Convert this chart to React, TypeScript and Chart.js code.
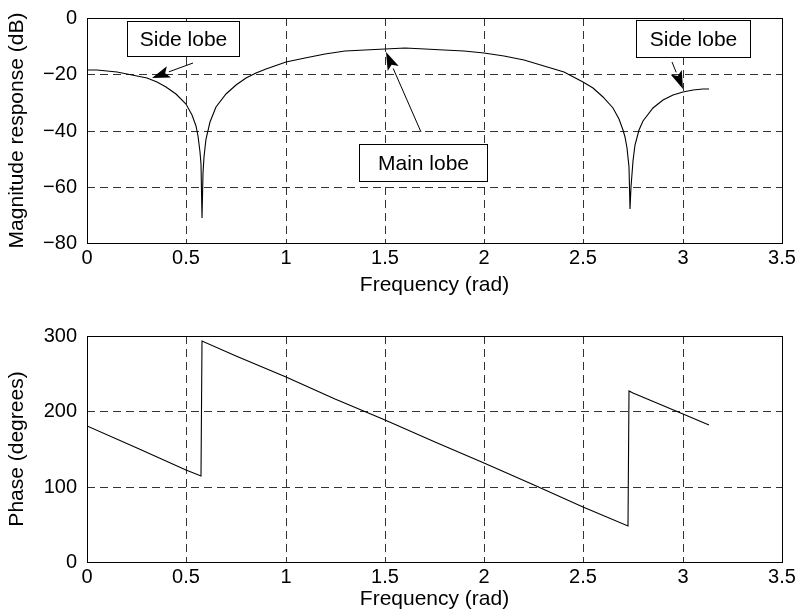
import React, { useEffect, useRef } from "react";
import { Chart, registerables } from "chart.js";

Chart.register(...registerables);

const FONT = "'Liberation Sans', Arial, Helvetica, sans-serif";

// ---- Data ----
const magFreq = [
  0, 0.05, 0.1, 0.15, 0.2, 0.25, 0.3, 0.35, 0.4, 0.45, 0.5, 0.53, 0.55, 0.56, 0.57, 0.575,
  0.58, 0.585, 0.59, 0.6, 0.62, 0.65, 0.7, 0.75, 0.8, 0.85, 0.9, 1.0, 1.1, 1.2, 1.3, 1.4,
  1.5, 1.6, 1.7, 1.8, 1.9, 2.0, 2.1, 2.2, 2.3, 2.4, 2.5, 2.55, 2.6, 2.65, 2.68, 2.7, 2.71,
  2.72, 2.73, 2.735, 2.74, 2.75, 2.76, 2.78, 2.8, 2.85, 2.9, 2.95, 3.0, 3.05, 3.1, 3.13,
];
const magDb = [
  -18.4, -18.6, -18.9, -19.3, -19.8, -20.5, -21.5, -22.8, -24.6, -27.1, -30.5, -34.5, -38.5, -42, -47.5, -52,
  -71, -55, -49.5, -43, -36.9, -31.8, -27, -23.8, -21.5, -19.7, -18.1, -15.6, -14.1, -12.9, -11.9, -11.3,
  -10.9, -10.8, -10.9, -11.2, -11.7, -12.5, -13.6, -15.0, -16.9, -19.3, -22.7, -25.0, -28.0, -32.1, -35.9, -39.7, -42.3,
  -46.2, -53, -68, -60, -51, -45.3, -39.7, -36.6, -31.9, -29.2, -27.5, -26.4, -25.7, -25.3, -25.2,
];

const phaseFreq = [0, 0.25, 0.5, 0.575, 0.58, 0.75, 1.0, 1.25, 1.5, 1.75, 2.0, 2.25, 2.5, 2.725, 2.73, 2.75, 3.0, 3.13];
const phaseDeg = [180, 151.4, 122.7, 114.1, 293.5, 274.1, 245.4, 216.8, 188.1, 159.5, 130.8, 102.2, 73.5, 47.8, 227.2, 224.9, 196.2, 181.3];

const freqRange = [0, 3.5];
const freqStep = 0.5;
const magRange = [-80, 0];
const magStep = 20;
const phaseRange = [0, 300];
const phaseStep = 100;

const magTitle = "Magnitude response (dB)";
const phaseTitle = "Phase (degrees)";
const freqTitle = "Frequency (rad)";

// annotation boxes / arrows (data coordinates)
const magBoxes = [
  { text: "Side lobe", x1: 0.2014, x2: 0.7654, y1: -1.07, y2: -13.5 },
  { text: "Side lobe", x1: 2.764, x2: 3.338, y1: -0.71, y2: -13.87 },
  { text: "Main lobe", x1: 1.3696, x2: 2.014, y1: -44.8, y2: -57.96 },
];
const magArrows = [
  { fx: 0.534, fy: -16.0, tx: 0.325, ty: -21.2 },
  { fx: 1.682, fy: -40.5, tx: 1.506, ty: -12.1 },
  { fx: 2.946, fy: -15.6, tx: 3.001, ty: -25.2 },
];

type Box = { text: string; x1: number; x2: number; y1: number; y2: number };
type Arrow = { fx: number; fy: number; tx: number; ty: number };

function makeOverlay(boxes: Box[], arrows: Arrow[]) {
  return {
    id: "overlay",
    afterDraw(chart: any) {
      const { ctx, chartArea: a, scales } = chart;
      const xs = scales.x;
      const ys = scales.y;
      ctx.save();
      ctx.strokeStyle = "#000";
      ctx.lineWidth = 1;
      ctx.setLineDash([]);
      const l = Math.floor(a.left) + 0.5;
      const r = Math.floor(a.right) + 0.5;
      const t = Math.floor(a.top) + 0.5;
      const b = Math.floor(a.bottom) + 0.5;
      ctx.strokeRect(l, t, r - l, b - t);

      for (const ar of arrows) {
        const x1 = xs.getPixelForValue(ar.fx);
        const y1 = ys.getPixelForValue(ar.fy);
        const x2 = xs.getPixelForValue(ar.tx);
        const y2 = ys.getPixelForValue(ar.ty);
        const ang = Math.atan2(y2 - y1, x2 - x1);
        const L = 18;
        const W = 6;
        const bx = x2 - L * Math.cos(ang);
        const by = y2 - L * Math.sin(ang);
        ctx.beginPath();
        ctx.moveTo(x1, y1);
        ctx.lineTo(bx, by);
        ctx.stroke();
        ctx.beginPath();
        ctx.moveTo(x2, y2);
        ctx.lineTo(bx + W * Math.sin(ang), by - W * Math.cos(ang));
        ctx.lineTo(bx + 4 * Math.cos(ang), by + 4 * Math.sin(ang));
        ctx.lineTo(bx - W * Math.sin(ang), by + W * Math.cos(ang));
        ctx.closePath();
        ctx.fillStyle = "#000";
        ctx.fill();
      }

      for (const bx of boxes) {
        const px1 = Math.round(xs.getPixelForValue(bx.x1)) + 0.5;
        const px2 = Math.round(xs.getPixelForValue(bx.x2)) + 0.5;
        const py1 = Math.round(ys.getPixelForValue(bx.y1)) + 0.5;
        const py2 = Math.round(ys.getPixelForValue(bx.y2)) + 0.5;
        ctx.fillStyle = "#fff";
        ctx.fillRect(px1, py1, px2 - px1, py2 - py1);
        ctx.strokeRect(px1, py1, px2 - px1, py2 - py1);
        ctx.fillStyle = "#000";
        ctx.font = `21px ${FONT}`;
        ctx.textAlign = "center";
        ctx.textBaseline = "middle";
        ctx.fillText(bx.text, (px1 + px2) / 2, (py1 + py2) / 2 + 1);
      }
      ctx.restore();
    },
  };
}

function fmtNum(v: number) {
  const r = Math.round(v * 10) / 10;
  return r < 0 ? "\u2212" + String(Math.abs(r)) : String(r);
}

type PlotProps = {
  xs: number[];
  ys: number[];
  yRange: number[];
  yStep: number;
  yTitle: string;
  height: number;
  padTop: number;
  xAxisHeight: number;
  xTitlePadBottom: number;
  boxes: Box[];
  arrows: Arrow[];
};

function Plot(p: PlotProps) {
  const ref = useRef<HTMLCanvasElement>(null);
  useEffect(() => {
    const gridColor = "rgba(0,0,0,0.8)";
    const chart = new Chart(ref.current as HTMLCanvasElement, {
      type: "line",
      data: {
        datasets: [
          {
            data: p.xs.map((x, i) => ({ x, y: p.ys[i] })),
            borderColor: "#000",
            borderWidth: 1.1,
            pointRadius: 0,
            fill: false,
            tension: 0,
          },
        ],
      },
      options: {
        responsive: false,
        animation: false,
        devicePixelRatio: 1,
        events: [],
        layout: { padding: { top: p.padTop, right: 17, left: 0, bottom: 0 } },
        plugins: { legend: { display: false }, tooltip: { enabled: false } },
        scales: {
          x: {
            type: "linear",
            min: freqRange[0],
            max: freqRange[1],
            alignToPixels: true,
            ticks: {
              stepSize: freqStep,
              color: "#000",
              font: { family: FONT, size: 20 },
              padding: 3,
              maxRotation: 0,
              autoSkip: false,
              callback: (v: any) => fmtNum(Number(v)),
            },
            grid: { color: gridColor, lineWidth: 1, drawTicks: false },
            border: { display: false, dash: [8, 5] },
            title: {
              display: true,
              text: freqTitle,
              color: "#000",
              font: { family: FONT, size: 21 },
              padding: { top: 0, bottom: p.xTitlePadBottom },
            },
            afterFit: (s: any) => {
              s.height = p.xAxisHeight;
              s.paddingLeft = 0;
              s.paddingRight = 0;
            },
          },
          y: {
            type: "linear",
            min: p.yRange[0],
            max: p.yRange[1],
            alignToPixels: true,
            ticks: {
              stepSize: p.yStep,
              color: "#000",
              font: { family: FONT, size: 20 },
              padding: 10,
              callback: (v: any) => fmtNum(Number(v)),
            },
            grid: { color: gridColor, lineWidth: 1, drawTicks: false },
            border: { display: false, dash: [8, 5] },
            title: {
              display: true,
              text: p.yTitle,
              color: "#000",
              font: { family: FONT, size: 21 },
              padding: { top: 5, bottom: 0 },
            },
            afterFit: (s: any) => {
              s.width = 87;
              s.paddingTop = 0;
              s.paddingBottom = 0;
            },
          },
        },
      } as any,
      plugins: [makeOverlay(p.boxes, p.arrows)],
    });
    return () => chart.destroy();
  }, []);
  return <canvas ref={ref} width={799} height={p.height} style={{ display: "block" }} />;
}

export default function App() {
  return (
    <div
      style={{
        position: "absolute",
        left: 0,
        top: 0,
        width: 799,
        height: 615,
        background: "#fff",
        overflow: "hidden",
      }}
    >
      <div style={{ position: "absolute", left: 0, top: 0 }}>
        <Plot
          xs={magFreq}
          ys={magDb}
          yRange={magRange}
          yStep={magStep}
          yTitle={magTitle}
          height={310}
          padTop={18}
          xAxisHeight={67}
          xTitlePadBottom={11.7}
          boxes={magBoxes}
          arrows={magArrows}
        />
      </div>
      <div style={{ position: "absolute", left: 0, top: 310 }}>
        <Plot
          xs={phaseFreq}
          ys={phaseDeg}
          yRange={phaseRange}
          yStep={phaseStep}
          yTitle={phaseTitle}
          height={305}
          padTop={26}
          xAxisHeight={53}
          xTitlePadBottom={3.3}
          boxes={[]}
          arrows={[]}
        />
      </div>
    </div>
  );
}
